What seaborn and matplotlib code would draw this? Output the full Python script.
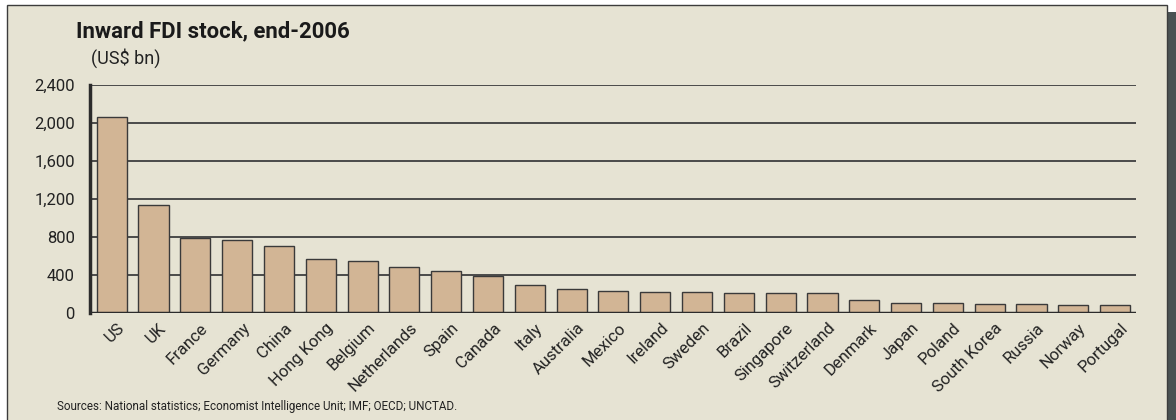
import matplotlib
matplotlib.use("Agg")
import matplotlib.pyplot as plt
from matplotlib.patches import Rectangle
from matplotlib.transforms import ScaledTranslation
from matplotlib import font_manager
import seaborn as sns
import pandas as pd

countries = ["US", "UK", "France", "Germany", "China", "Hong Kong", "Belgium",
             "Netherlands", "Spain", "Canada", "Italy", "Australia", "Mexico",
             "Ireland", "Sweden", "Brazil", "Singapore", "Switzerland", "Denmark",
             "Japan", "Poland", "South Korea", "Russia", "Norway", "Portugal"]
fdi_stock = [2060, 1140, 790, 765, 705, 567, 550, 490, 444, 388, 298, 250, 238,
             228, 221, 217, 213, 210, 140, 111, 105, 101, 95, 90, 85]
y_ticks = [0, 400, 800, 1200, 1600, 2000, 2400]
y_tick_labels = ["0", "400", "800", "1,200", "1,600", "2,000", "2,400"]

sns.set_theme(style="white")

installed = {f.name for f in font_manager.fontManager.ttflist}
base_font = "Liberation Sans Narrow" if "Liberation Sans Narrow" in installed else "Roboto"
plt.rcParams["font.family"] = [base_font, "DejaVu Sans"]

panel_bg = "#E6E3D3"
bar_col = "#D2B595"
dark = "#2b2b2b"

fig = plt.figure(figsize=(11.76, 4.2), dpi=100, facecolor="white")

# panel shadow and panel, kept behind the axes
fig.patches.append(Rectangle((1167 / 1176, 0), 9 / 1176, 1 - 12 / 420,
                             transform=fig.transFigure, facecolor="#4a5253",
                             edgecolor="none", zorder=-2))
fig.patches.append(Rectangle((7 / 1176, -0.01), 1160 / 1176, 1 - 5 / 420 + 0.01,
                             transform=fig.transFigure, facecolor=panel_bg,
                             edgecolor="#3c3c3c", linewidth=1.0, zorder=-1))

ax = fig.add_axes([90 / 1176, 106.7 / 420, (1136 - 90) / 1176, 228.7 / 420])
ax.set_facecolor("none")

df = pd.DataFrame({"country": countries, "value": fdi_stock})
sns.barplot(data=df, x="country", y="value", color=bar_col, saturation=1,
            width=0.72, edgecolor="#3a3a3a", linewidth=1.0, ax=ax, zorder=3)

ax.set_ylim(0, 2400)
ax.set_xlim(-0.52, len(countries) - 0.5)
ax.set_yticks(y_ticks)
ax.set_yticklabels(y_tick_labels, fontsize=12, color="#222222")
for y in y_ticks[1:]:
    ax.axhline(y, color="#4a4a4a", linewidth=1.4, zorder=1)
ax.axhline(0, color=dark, linewidth=2.5, zorder=4)

for side in ["top", "right", "bottom"]:
    ax.spines[side].set_visible(False)
ax.spines["left"].set_color(dark)
ax.spines["left"].set_linewidth(2.5)
ax.spines["left"].set_zorder(5)
ax.tick_params(axis="y", direction="out", length=5.8, width=2.2, color=dark, pad=5)
ax.tick_params(axis="x", length=0, pad=5)
ax.set_xticks(range(len(countries)))
ax.set_xticklabels(countries, rotation=45, ha="right", rotation_mode="anchor",
                   fontsize=12, color="#222222")
shift = ScaledTranslation(5 / 100, 0, fig.dpi_scale_trans)
for lab in ax.get_xticklabels():
    lab.set_transform(lab.get_transform() + shift)
ax.set_xlabel("")
ax.set_ylabel("")

fig.text(76 / 1176, 1 - 37 / 420, "Inward FDI stock, end-2006", fontsize=15.9,
         fontweight="bold", color="#1a1a1a", ha="left", va="baseline")
fig.text(91 / 1176, 1 - 64 / 420, "(US$ bn)", fontsize=13, color="#222222",
         ha="left", va="baseline")
fig.text(57 / 1176, 1 - 410 / 420,
         "Sources: National statistics; Economist Intelligence Unit; IMF; OECD; UNCTAD.",
         fontsize=8.4, color="#222222", ha="left", va="baseline")

fig.savefig("out.png", dpi=100, facecolor="white")
